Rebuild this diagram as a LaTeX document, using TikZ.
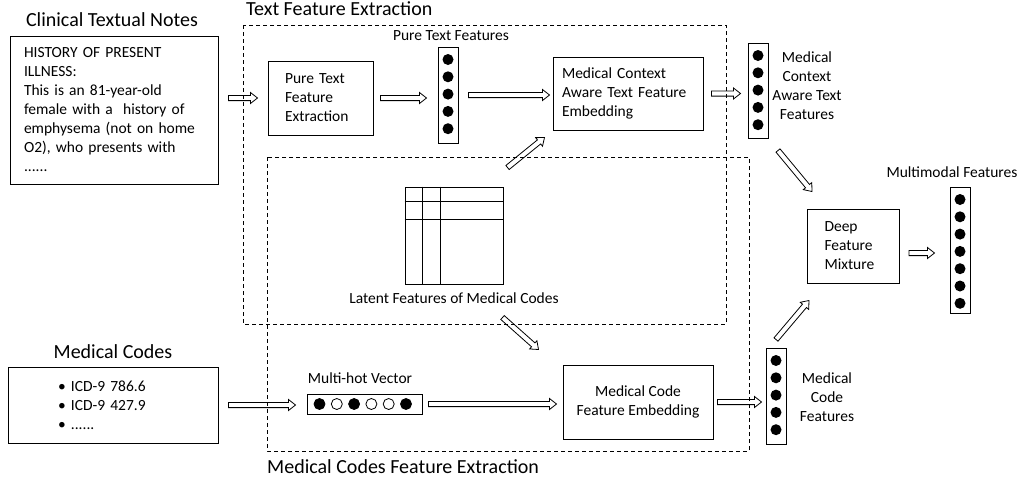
\documentclass[tikz,border=0pt]{standalone}
\usepackage{fontspec}
\setmainfont{Carlito}
\usetikzlibrary{calc}

\tikzset{
  box/.style={draw, line width=1pt, inner sep=0pt},
  vecbox/.style={draw, line width=1pt, minimum width=20pt, inner sep=0pt},
  lbl/.style={font=\fontsize{15.5}{19}\selectfont, align=center, inner sep=0pt},
  ttl/.style={font=\fontsize{20}{24}\selectfont, inner sep=0pt},
  group/.style={draw, line width=0.8pt, dash pattern=on 4pt off 3pt},
  gapA/.store in=\gapA, gapB/.store in=\gapB, gapA=0pt, gapB=0pt,
  % hollow block arrow
  fat/.style={draw, line width=0.8pt, line join=miter, to path={
    let \p1=($(\tikztostart)!\gapA!(\tikztotarget)$),
        \p2=($(\tikztotarget)!\gapB!(\tikztostart)$),
        \p3=($(\p2)!7pt!(\p1)$) in
    ($(\p1)!2.6pt!-90:(\p2)$) -- ($(\p3)!2.6pt!90:(\p1)$) -- ($(\p3)!5.5pt!90:(\p1)$) -- (\p2)
    -- ($(\p3)!5.5pt!-90:(\p1)$) -- ($(\p3)!2.6pt!-90:(\p1)$) -- ($(\p1)!2.6pt!90:(\p2)$) -- cycle}},
}

\begin{document}
\begin{tikzpicture}[x=1pt, y=-1pt, font=\fontsize{15.5}{19}\selectfont]
\useasboundingbox (0,0) rectangle (1023,483);
\def\gap{17.3}%dot spacing
\def\top{13}%first dot offset

% dashed groups
\draw[group] (243,25) rectangle (726,324);
\draw[group] (267,157) rectangle (749,451);
\node[ttl, anchor=west] (tfeTitle) at (246,9) {Text Feature Extraction};
\node[ttl, anchor=west] (mcfTitle) at (267,467) {Medical Codes Feature Extraction};

% inputs
\node[ttl] (notesTitle) at (112,20) {Clinical Textual Notes};
\node[box, text width=180pt, inner xsep=14pt, minimum height=148pt, align=left] (notes) at (114,110)
  {HISTORY OF PRESENT\\ ILLNESS:\\ This is an 81-year-old\\ female with a\ \ history of\\ emphysema (not on home\\ O2), who presents with\\ ......};
\node[ttl] (codesTitle) at (113,352) {Medical Codes};
\node[box, text width=110pt, inner xsep=50pt, minimum height=76pt, align=left] (codes) at (113,405)
  {\textbullet\ ICD-9 786.6\\ \textbullet\ ICD-9 427.9\\ \textbullet\ ......};

% text branch
\node[box, text width=71pt, inner xsep=17pt, minimum height=74pt, align=left] (ptfe) at (320.5,98)
  {Pure Text\\ Feature\\ Extraction};
\node[vecbox, minimum height=96pt] (ptf) at (448,95) {};
\node[lbl] (ptfLabel) at (451,36) {Pure Text Features};
\node[box, text width=132pt, inner xsep=9pt, minimum height=73pt, align=left] (mcate) at (628,93.5)
  {Medical Context\\ Aware Text Feature\\ Embedding};
\node[vecbox, minimum height=95pt] (ctxf) at (758,90.5) {};
\node[lbl] (ctxfLabel) at (807,86) {Medical\\ Context\\ Aware Text\\ Features};

% latent code matrix
\node[box, minimum width=98pt, minimum height=97pt] (latent) at (454,235.5) {};
\foreach \d in {18,36}
  \draw[line width=0.6pt] ($(latent.north west)+(\d,0)$) -- ($(latent.south west)+(\d,0)$);
\foreach \d in {15,33}
  \draw[line width=0.6pt] ($(latent.north west)+(0,\d)$) -- ($(latent.north east)+(0,\d)$);
\node[lbl] (latentLabel) at (454,298) {Latent Features of Medical Codes};

% code branch
\node[lbl] (mhvLabel) at (360,378) {Multi-hot Vector};
\node[box, minimum width=115pt, minimum height=20pt] (mhv) at (364.5,404) {};
\foreach \c [count=\i] in {black,white,black,white,white,black}
  \draw[line width=0.8pt, fill=\c] ($(mhv.west)+(\top+\gap*\i-\gap,0)$) circle[radius=5.5pt];
\node[box, minimum width=150pt, minimum height=74pt, align=center] (mcfe) at (638,402)
  {Medical Code\\ Feature Embedding};
\node[vecbox, minimum height=96pt] (codef) at (776,396) {};
\node[lbl] (codefLabel) at (827,397) {Medical\\ Code\\ Features};

% fusion
\node[box, text width=58pt, inner xsep=17pt, minimum height=74pt, align=left] (dfm) at (853.5,246)
  {Deep\\ Feature\\ Mixture};
\node[vecbox, minimum height=126pt] (mmf) at (960,250) {};
\node[lbl] (mmfLabel) at (952,172) {Multimodal Features};
\coordinate (dfmOut) at ($(dfm.east)+(0,7)$);

% feature dots
\foreach \nm/\n in {ptf/5, ctxf/5, codef/5, mmf/7}
  \foreach \i in {1,...,\n}
    \fill ($(\nm.north)+(0,\top+\gap*\i-\gap)$) circle[radius=5.5pt];

% arrows
\draw[fat, gapA=10pt, gapB=10pt] (notes.east |- ptfe.west) to (ptfe.west);
\draw[fat, gapA=7pt, gapB=11pt] (ptfe.east) to (ptfe.east -| ptf.west);
\draw[fat, gapA=10pt, gapB=3pt] (ptf.east) to (ptf.east -| mcate.west);
\draw[fat, gapA=8pt, gapB=7pt] (mcate.east) to (mcate.east -| ctxf.west);
\draw[fat, gapA=10pt, gapB=11pt] (codes.east) to (codes.east -| mhv.west);
\draw[fat, gapA=6pt, gapB=6pt] (mhv.east) to (mhv.east -| mcfe.west);
\draw[fat, gapA=4pt, gapB=4pt] (mcfe.east) to (mcfe.east -| codef.west);
\draw[fat, gapA=9pt, gapB=15pt] (dfmOut) to (dfmOut -| mmf.west);
\draw[fat] ($(latent.north east)+(4,-19)$) to ($(mcate.south west)+(-8,7)$);
\draw[fat] ($(latent.south east)+(-1,33)$) to ($(mcfe.north west)+(-24,-15)$);
\draw[fat] ($(codef.north)+(0,-8)$) to ($(dfm.south west)+(2,17)$);
\draw[fat] ($(ctxf.south)+(20,12)$) to ($(dfm.north west)+(5,-17)$);
\end{tikzpicture}
\end{document}
